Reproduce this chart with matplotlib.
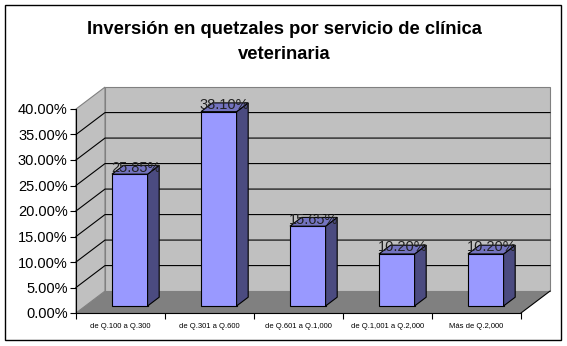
import matplotlib
matplotlib.use('Agg')
import matplotlib.pyplot as plt
from matplotlib.patches import Polygon, Rectangle

plt.rcParams['font.family'] = ['Liberation Sans', 'DejaVu Sans']

categories = ['de Q.100 a Q.300', 'de Q.301 a Q.600', 'de Q.601 a Q.1,000',
              'de Q.1,001 a Q.2,000', 'Más de Q.2,000']
values = [25.85, 38.10, 15.65, 10.20, 10.20]
y_ticks = [0, 5, 10, 15, 20, 25, 30, 35, 40]
title = 'Inversión en quetzales por servicio de clínica\nveterinaria'

W, H = 567, 346
# depth of the oblique 3d box, in data units (categories, percent)
DX = 0.326
DY = 4.3
n = len(categories)
ymax = y_ticks[-1]

front_col = '#9999ff'
side_col = '#4b4b80'
top_col = '#7373bf'
wall_col = '#c0c0c0'
floor_col = '#808080'
edge_gray = '#808080'


def fx(x):
    return x / W


def fy(y):
    return 1 - y / H


fig = plt.figure(figsize=(W / 100, H / 100), dpi=100)
fig.patch.set_facecolor('white')

# outer border of the chart area
fig.patches.append(Rectangle((fx(5), fy(340)), fx(561) - fx(5), fy(5) - fy(340),
                             transform=fig.transFigure, fill=False,
                             edgecolor='black', linewidth=1.0))

fig.text(fx(284), fy(42), title, ha='center', va='center', fontsize=13.2,
         fontweight='bold', linespacing=1.55)

ax = fig.add_axes([fx(76), fy(313), fx(521) - fx(76), fy(109) - fy(313)])
ax.set_xlim(0, n)
ax.set_ylim(0, ymax)
ax.patch.set_visible(False)
for s in ['top', 'right']:
    ax.spines[s].set_visible(False)
for s in ['left', 'bottom']:
    ax.spines[s].set_linewidth(0.8)
    ax.spines[s].set_zorder(6)

# walls and floor
left_wall = Polygon([(0, 0), (DX, DY), (DX, ymax + DY), (0, ymax)],
                    facecolor=wall_col, edgecolor=edge_gray, lw=0.8, zorder=1, clip_on=False)
back_wall = Polygon([(DX, DY), (n + DX, DY), (n + DX, ymax + DY), (DX, ymax + DY)],
                    facecolor=wall_col, edgecolor=edge_gray, lw=0.8, zorder=1, clip_on=False)
floor = Polygon([(0, 0), (n, 0), (n + DX, DY), (DX, DY)],
                facecolor=floor_col, edgecolor='none', zorder=1.5, clip_on=False)
for p in (left_wall, back_wall, floor):
    ax.add_patch(p)
ax.plot([n, n + DX], [0, DY], color='black', lw=0.8, zorder=2, clip_on=False)

# gridlines on left and back walls
for v in y_ticks[1:-1]:
    ax.plot([0, DX, n + DX], [v, v + DY, v + DY], color='black', lw=0.8,
            zorder=2, clip_on=False)

# 3d bars
bw = 0.4
f0, f1 = 0.32, 0.72
for i, v in enumerate(values):
    c = i + 0.5
    x0 = c - bw / 2 + f0 * DX
    x1 = c + bw / 2 + f0 * DX
    y0 = f0 * DY
    y1 = v + f0 * DY
    ddx = (f1 - f0) * DX
    ddy = (f1 - f0) * DY
    ax.add_patch(Polygon([(x0, y0), (x1, y0), (x1, y1), (x0, y1)],
                         facecolor=front_col, edgecolor='black', lw=0.8, zorder=3, clip_on=False))
    ax.add_patch(Polygon([(x1, y0), (x1 + ddx, y0 + ddy), (x1 + ddx, y1 + ddy), (x1, y1)],
                         facecolor=side_col, edgecolor='black', lw=0.8, zorder=3, clip_on=False))
    ax.add_patch(Polygon([(x0, y1), (x1, y1), (x1 + ddx, y1 + ddy), (x0 + ddx, y1 + ddy)],
                         facecolor=top_col, edgecolor='black', lw=0.8, zorder=3, clip_on=False))
    ax.text(c + 0.52 * DX, v + 0.62 * DY, '{:.2f}%'.format(v), ha='center', va='center',
            fontsize=10.5, color='#222222', zorder=5)

# axes ticks
ax.set_yticks(y_ticks)
ax.set_yticklabels(['{:.2f}%'.format(t) for t in y_ticks])
ax.tick_params(axis='y', direction='out', length=4, width=0.8, labelsize=10.5, pad=2)
ax.set_xticks(range(n + 1))
ax.set_xticklabels([])
ax.set_xticks([i + 0.5 for i in range(n)], minor=True)
ax.set_xticklabels(categories, minor=True)
ax.tick_params(axis='x', which='major', direction='out', length=4, width=0.8)
ax.tick_params(axis='x', which='minor', length=0, labelsize=5.5, pad=7)

fig.savefig('out.png', dpi=100, facecolor='white')
